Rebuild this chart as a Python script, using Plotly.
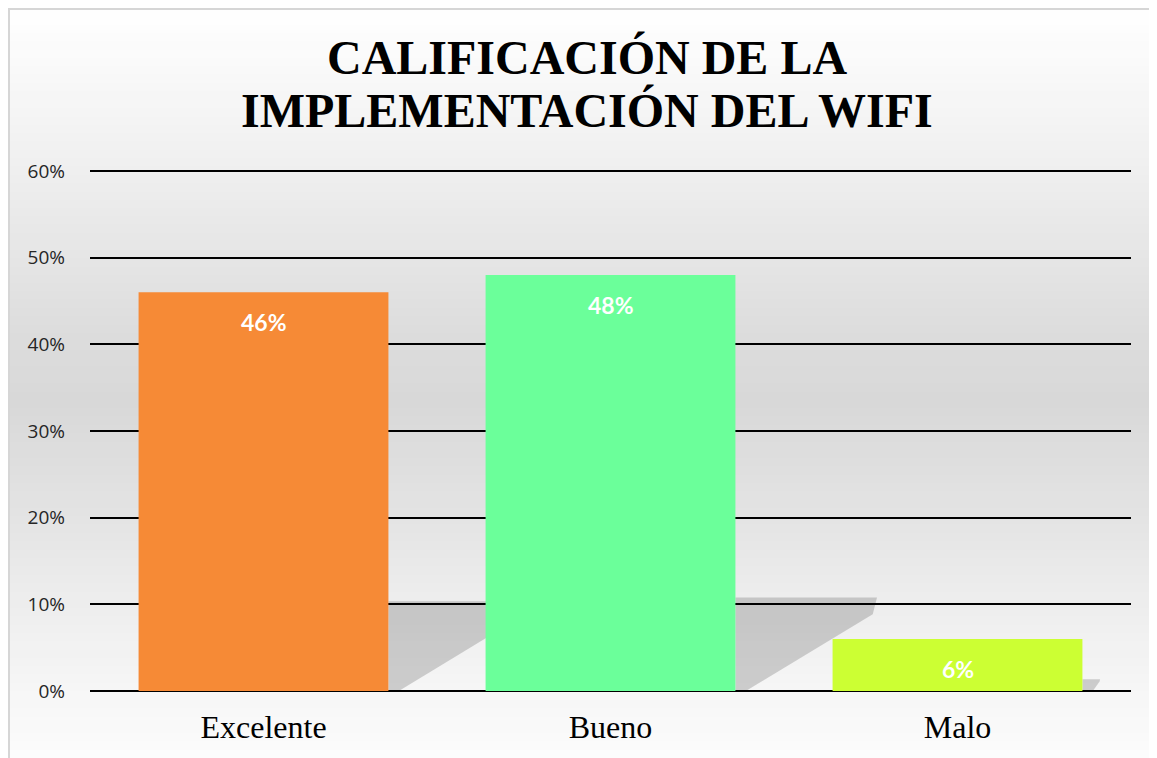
import plotly.graph_objects as go

categories = ["Excelente", "Bueno", "Malo"]
values = [0.46, 0.48, 0.06]
labels = ["46%", "48%", "6%"]
bar_colors = ["#F68A36", "#6BFF9A", "#CCFF33"]
y_ticks = [0, 0.1, 0.2, 0.3, 0.4, 0.5, 0.6]
y_tick_text = ["0%", "10%", "20%", "30%", "40%", "50%", "60%"]
title_lines = ["CALIFICACIÓN DE LA", "IMPLEMENTACIÓN DEL WIFI"]

W, H = 1149, 750
Y_MAX = 0.6
L, R, T, B = 82, 26, 153, 67
PW, PH = W - L - R, H - T - B
Y_TOP = Y_MAX * PH / (PH - 10)   # head-room so the top gridline is drawn
BAR_W = 0.72

xs = list(range(len(categories)))

fig = go.Figure()

# soft cast shadows behind bars (base axes, drawn under the overlay axes)
for i, v in zip(xs, values):
    r = i + BAR_W / 2
    h = 0.225 * v
    ext = 0.85 * v
    fig.add_trace(go.Scatter(
        x=[r, r, r + ext, r + ext * 0.97, r + 0.03, r],
        y=[0, h, h, h * 0.82, 0, 0],
        fill="toself", fillcolor="rgba(0,0,0,0.17)", line=dict(width=0),
        mode="lines", hoverinfo="skip", showlegend=False, xaxis="x", yaxis="y"))

fig.add_trace(go.Bar(
    x=xs, y=values, marker=dict(color=bar_colors, line=dict(width=0)),
    width=BAR_W, hoverinfo="skip", showlegend=False, xaxis="x2", yaxis="y2",
))

for i, v, t in zip(xs, values, labels):
    fig.add_annotation(x=i, y=v, xref="x2", yref="y2", text=t, showarrow=False, yshift=-30,
                       font=dict(family="Lato", size=23, color="white", weight="bold"))

# background vertical gradient (page y -> grey level)
stops = [(0, 255), (20, 254), (170, 239), (330, 221), (400, 216), (500, 226),
         (600, 237), (700, 247), (758, 252)]
def shade(py):
    for (y0, c0), (y1, c1) in zip(stops[:-1], stops[1:]):
        if y0 <= py <= y1:
            return c0 + (c1 - c0) * (py - y0) / (y1 - y0)
    return stops[-1][1]
N = 90
shapes = []
for k in range(N):
    fy0 = k * H / N
    fy1 = (k + 1) * H / N
    g = int(round(shade((fy0 + fy1) / 2 + 8)))
    shapes.append(dict(type="rect", xref="paper", yref="paper", layer="below",
                       x0=-L / PW - 0.01, x1=1 + R / PW + 0.01,
                       y0=(H - B - fy1) / PH - 0.002, y1=(H - B - fy0) / PH,
                       fillcolor=f"rgb({g},{g},{g})", line=dict(width=0)))
shapes.append(dict(type="rect", xref="paper", yref="paper", layer="below",
                   x0=(-L + 1) / PW, x1=1 + R / PW + 0.05, y0=-B / PH - 0.05, y1=1 + (T - 1) / PH,
                   line=dict(color="#D6D6D6", width=2), fillcolor="rgba(0,0,0,0)"))

cx = (W / 2 + 4 - L) / PW
for k, line in enumerate(title_lines):
    fig.add_annotation(xref="paper", yref="paper", x=cx, y=1, yanchor="middle",
                       yshift=[104, 51][k], text=line, showarrow=False,
                       font=dict(family="Liberation Serif", size=48, color="black", weight="bold"))

xr = [-0.5, 2.5]
fig.update_layout(
    width=W, height=H,
    margin=dict(l=L, r=R, t=T, b=B),
    paper_bgcolor="white", plot_bgcolor="rgba(0,0,0,0)",
    shapes=shapes,
    xaxis=dict(range=xr, tickvals=xs, ticktext=categories,
               showgrid=False, showline=False, zeroline=False, ticks="",
               ticklabelstandoff=14,
               tickfont=dict(family="Liberation Serif", size=32, color="black")),
    yaxis=dict(range=[0, Y_TOP], tickvals=y_ticks, ticktext=y_tick_text,
               showgrid=True, gridcolor="black", gridwidth=2,
               zeroline=True, zerolinecolor="black", zerolinewidth=2,
               showline=False, ticks="", ticklabelstandoff=24,
               tickfont=dict(family="Open Sans", size=19, color="#262626")),
    xaxis2=dict(range=xr, overlaying="x", showgrid=False, showline=False,
                zeroline=False, showticklabels=False, ticks=""),
    yaxis2=dict(range=[0, Y_TOP], overlaying="y", showgrid=False, showline=False,
                zeroline=False, showticklabels=False, ticks=""),
)
fig.write_html("out.html")
